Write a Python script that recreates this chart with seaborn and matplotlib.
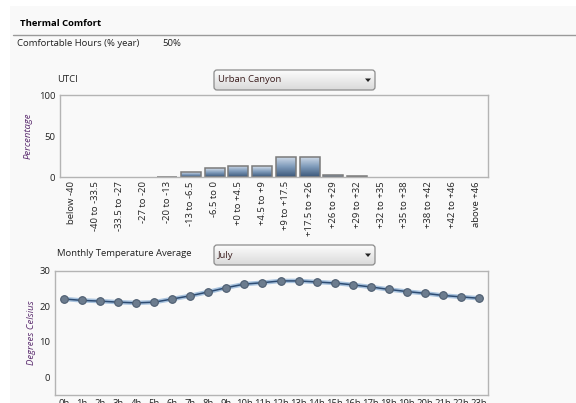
import numpy as np
import matplotlib
matplotlib.use("Agg")
import matplotlib.pyplot as plt
from matplotlib.patches import FancyBboxPatch, Rectangle, Polygon
import seaborn as sns

# --- DATA ---
utci_bins = ['below -40', '-40 to -33.5', '-33.5 to -27', '-27 to -20', '-20 to -13',
             '-13 to -6.5', '-6.5 to 0', '+0 to +4.5', '+4.5 to +9', '+9 to +17.5',
             '+17.5 to +26', '+26 to +29', '+29 to +32', '+32 to +35', '+35 to +38',
             '+38 to +42', '+42 to +46', 'above +46']
utci_pct = [0, 0, 0, 0, 0.5, 6, 11, 14, 13, 25, 25, 3, 1.5, 0, 0, 0, 0, 0]

hours = [f'{h}h' for h in range(24)]
temp_july = [22.1, 21.7, 21.5, 21.2, 21.0, 21.2, 22.1, 23.0, 24.1, 25.3, 26.3, 26.7,
             27.2, 27.2, 26.9, 26.6, 26.1, 25.5, 24.8, 24.2, 23.7, 23.1, 22.7, 22.3]

comfortable_hours = '50%'
utci_option = 'Urban Canyon'
month_option = 'July'

# --- STYLE ---
sns.set_style("white")
plt.rcParams['font.family'] = ['Open Sans', 'DejaVu Sans']
BG = '#f9f9f9'
TXT = '#222222'
SPINE = '#b4b4b4'
LABEL_PURPLE = '#5b2c6f'
FS = 6.8

W, H = 576, 403
fig = plt.figure(figsize=(W / 100, H / 100), dpi=100, facecolor='white')


def fx(px):
    return px / W


def fy(py):
    return 1 - py / H


# page panel
fig.add_artist(Rectangle((fx(10), 0), 1, fy(6), transform=fig.transFigure,
                         facecolor=BG, edgecolor='none', zorder=-5))
fig.add_artist(plt.Line2D([fx(13), 1], [fy(35), fy(35)], transform=fig.transFigure,
                          color='#9a9a9a', lw=1))

fig.text(fx(20), fy(23), 'Thermal Comfort', fontsize=FS, fontweight='bold',
         color='black', va='center')
fig.text(fx(17), fy(43), 'Comfortable Hours (% year)', fontsize=FS, color=TXT, va='center')
fig.text(fx(162), fy(43), comfortable_hours, fontsize=FS, color=TXT, va='center')


def dropdown(x0, y0, x1, y1, label):
    # small axes measured in pixels so the rounded corners stay round
    w, h = x1 - x0, y1 - y0
    dax = fig.add_axes([fx(x0 - 1), fy(y1 + 1), fx(w + 2), (h + 2) / H])
    dax.set_axis_off()
    dax.set_xlim(-1, w + 1)
    dax.set_ylim(-1, h + 1)
    cmap = matplotlib.colors.LinearSegmentedColormap.from_list('dd', ['#dadada', '#fcfcfc'])
    im = dax.imshow(np.linspace(0, 1, 50).reshape(-1, 1), aspect='auto', origin='lower',
                    cmap=cmap, extent=[0, w, 0, h])
    box = FancyBboxPatch((0, 0), w, h, boxstyle='round,pad=0,rounding_size=3',
                         facecolor='none', edgecolor='#8c8c8c', lw=0.9)
    dax.add_patch(box)
    im.set_clip_path(box)
    dax.text(4, h / 2, label, fontsize=FS, color='#3a1c1c', va='center')
    cx, cy = w - 7, h / 2
    dax.add_patch(Polygon([[cx - 3, cy + 1.5], [cx + 3, cy + 1.5], [cx, cy - 2]],
                          closed=True, facecolor='#222222', edgecolor='none'))


fig.text(fx(57), fy(80), 'UTCI', fontsize=FS, color=TXT, va='center')
dropdown(214, 70, 375, 90, utci_option)
fig.text(fx(57), fy(254), 'Monthly Temperature Average', fontsize=FS, color=TXT, va='center')
dropdown(214, 245, 375, 265, month_option)


def style_axes(ax):
    ax.set_facecolor(BG)
    for s in ax.spines.values():
        s.set_color(SPINE)
        s.set_linewidth(1)
    ax.tick_params(axis='y', direction='out', length=3, width=0.8, color='#333333',
                   labelsize=FS, labelcolor=TXT, pad=0.5)


# --- UTCI bar chart ---
ax1 = fig.add_axes([fx(60), fy(177), fx(488 - 60), (177 - 95) / H])
style_axes(ax1)
sns.barplot(x=utci_bins, y=utci_pct, color='#5a7799', width=0.84, ax=ax1,
            edgecolor='#7a7a7a', linewidth=1.1)
bar_cmap = matplotlib.colors.LinearSegmentedColormap.from_list(
    'bar', ['#3b587a', '#7f9bbb', '#d5dfeb'])
grad = np.linspace(0, 1, 64).reshape(-1, 1)
for p in ax1.patches:
    h = p.get_height()
    if h <= 0:
        p.set_visible(False)
        continue
    x0 = p.get_x()
    im = ax1.imshow(grad, cmap=bar_cmap, aspect='auto', origin='lower',
                    extent=[x0, x0 + p.get_width(), 0, h], zorder=p.get_zorder())
    im.set_clip_path(p)
    p.set_facecolor('none')
    p.set_zorder(im.get_zorder() + 0.1)
n = len(utci_bins)
ax1.set_xlim(-0.5, n - 0.5)
ax1.set_ylim(0, 101)
ax1.set_yticks([0, 50, 100])
ax1.set_xticks(range(n))
ax1.set_xticklabels(utci_bins, rotation=90, fontsize=FS, color=TXT)
ax1.tick_params(axis='x', which='major', length=0, pad=3)
ax1.set_xticks(np.arange(-0.5, n, 1), minor=True)
ax1.tick_params(axis='x', which='minor', direction='out', length=3, width=0.8, color='#333333')
ax1.set_xlabel('')
ax1.set_ylabel('Percentage', fontsize=FS, style='italic', color=LABEL_PURPLE, labelpad=4)

# --- Monthly temperature line chart ---
ax2 = fig.add_axes([fx(55), fy(395), fx(488 - 55), (395 - 271) / H])
style_axes(ax2)
x = np.arange(len(hours))
sns.lineplot(x=x, y=temp_july, ax=ax2, color='#a9c3de', lw=3.2, zorder=2)
sns.lineplot(x=x, y=temp_july, ax=ax2, color='#2d4c73', lw=1.1, zorder=3,
             marker='o', markersize=5.5, markerfacecolor='#6c7c8e',
             markeredgecolor='#4d5d70', markeredgewidth=0.8)
ax2.set_xlim(-0.5, len(hours) - 0.5)
ax2.set_ylim(-5, 30)
ax2.set_yticks([0, 10, 20, 30])
ax2.set_xticks(x)
ax2.set_xticklabels(hours, fontsize=FS, color=TXT)
ax2.tick_params(axis='x', which='major', length=0, pad=3)
ax2.set_xticks(np.arange(-0.5, len(hours), 1), minor=True)
ax2.tick_params(axis='x', which='minor', direction='out', length=3, width=0.8, color='#333333')
ax2.set_ylabel('Degrees Celsius', fontsize=FS, style='italic', color=LABEL_PURPLE, labelpad=2)

fig.savefig('out.png', dpi=100, facecolor='white')
